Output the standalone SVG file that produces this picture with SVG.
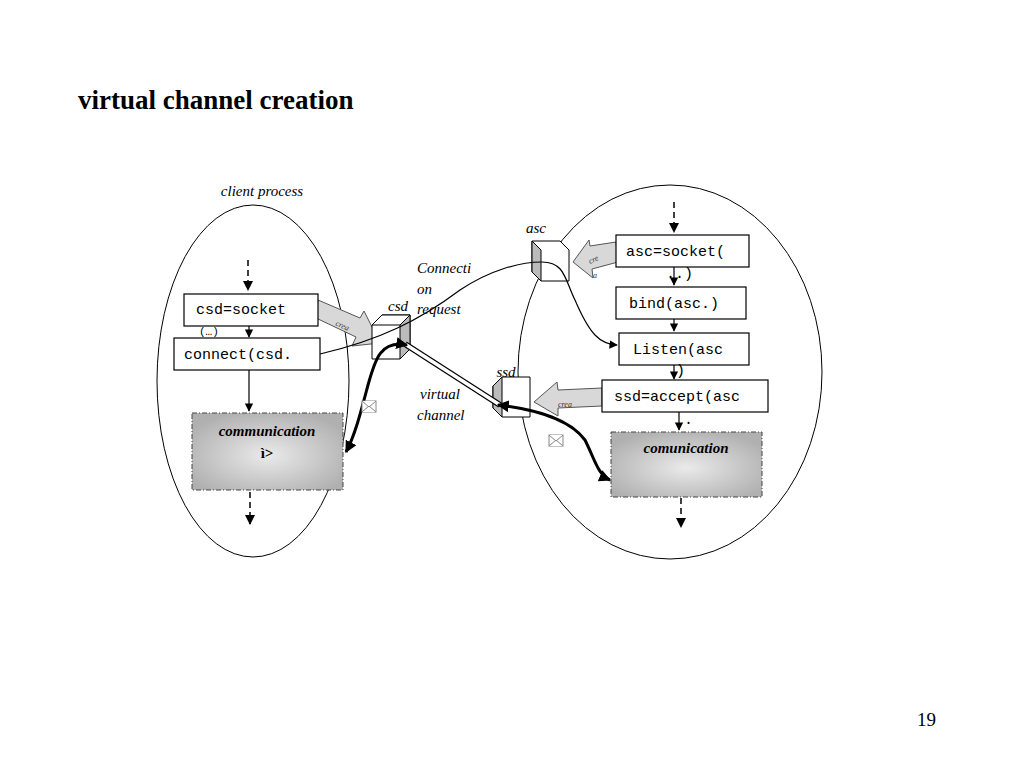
<svg xmlns="http://www.w3.org/2000/svg" width="1024" height="768" viewBox="0 0 1024 768">
<style>
.t{font-family:"Liberation Serif",serif;font-style:italic;font-size:15px}
.m{font-family:"Liberation Mono",monospace;font-size:15px}
.box{fill:#fff;stroke:#000;stroke-width:1.2}
.th{fill:none;stroke:#000;stroke-width:1.2}
.bk{fill:none;stroke:#000;stroke-width:3}
.da{fill:none;stroke:#000;stroke-width:1.5;stroke-dasharray:6,4}
.fat{fill:#d8d8d8;stroke:#555;stroke-width:1}
.ct{font-family:"Liberation Serif",serif;font-style:italic;font-size:8px;fill:#333}
.env{fill:#fff;stroke:#888;stroke-width:1}
</style>
<defs>
<marker id="a" viewBox="0 0 10 10" refX="9" refY="5" markerWidth="7" markerHeight="7" orient="auto-start-reverse"><path d="M0,0L10,5L0,10z"/></marker>
<marker id="b" viewBox="0 0 10 10" refX="9" refY="5" markerWidth="4" markerHeight="4" orient="auto-start-reverse"><path d="M0,0L10,5L0,10z"/></marker>
<radialGradient id="g" cx="0.5" cy="0.55" r="0.6"><stop offset="0" stop-color="#eaeaea"/><stop offset="1" stop-color="#b0b0b0"/></radialGradient>
</defs>
<rect width="1024" height="768" fill="#fff"/>
<text x="78" y="109" font-family="Liberation Serif,serif" font-weight="bold" font-size="27">virtual channel creation</text>
<text x="917" y="726" font-family="Liberation Serif,serif" font-size="19">19</text>
<text x="262" y="196" class="t" text-anchor="middle">client process</text>
<ellipse cx="253" cy="381" rx="96" ry="176" fill="none" stroke="#000"/>
<ellipse cx="670" cy="372" rx="152" ry="187" fill="none" stroke="#000"/>
<g id="crea1"><path class="fat" d="M318,300L360,318L364,311L380,343L352,346L356,337L316,318z"/><text x="335" y="325" class="ct" transform="rotate(25 335 325)">crea</text></g>
<g id="crea2"><path class="fat" d="M616,242L590,246L589,240L573,262L593,278L592,269L618,262z"/><text x="590" y="264" class="ct" transform="rotate(-25 590 264)">cre</text><text x="593" y="278" class="ct">a</text></g>
<g id="crea3"><path class="fat" d="M602,388L558,390L557,382L534,402L558,416L558,408L602,406z"/><text x="558" y="407" class="ct">crea</text></g>
<g id="csdcube"><path d="M372,325L382,315H410V349L400,359H372z" fill="#fff" stroke="#000"/><path d="M400,325L410,315V349L400,359z" fill="#bbb" stroke="#000"/><path d="M372,325L382,315H410L400,325z" fill="#fff" stroke="#000"/><text x="398" y="311" class="t" text-anchor="middle">csd</text></g>
<g id="asccube"><path d="M532,241H560L569,250V281H541L532,272z" fill="#fff" stroke="#000"/><path d="M532,241L541,250V281L532,272z" fill="#bbb" stroke="#000"/><text x="536" y="233" class="t" text-anchor="middle">asc</text></g>
<g id="ssdcube"><path d="M502,377H530V417H502L493,408V386z" fill="#fff" stroke="#000"/><path d="M493,386L502,377V417L493,408z" fill="#bbb" stroke="#000"/><text x="506" y="377" class="t" text-anchor="middle">ssd</text></g>
<g id="connectors">
<path class="da" d="M248,260V290" marker-end="url(#a)"/>
<path class="th" d="M249,326V337" marker-end="url(#a)"/>
<path class="th" d="M249,370V411" marker-end="url(#a)"/>
<path class="da" d="M250,492V524" marker-end="url(#a)"/>
<path class="da" d="M674,202V232" marker-end="url(#a)"/>
<path class="th" d="M674,267V285" marker-end="url(#a)"/>
<path class="th" d="M674,319V331" marker-end="url(#a)"/>
<path class="th" d="M674,365V379" marker-end="url(#a)"/>
<path class="th" d="M679,412V430" marker-end="url(#a)"/>
<path class="da" d="M681,498V527" marker-end="url(#a)"/>
<path class="th" d="M320,354C380,340 420,320 460,290C490,270 520,262 542,262C565,262 565,280 575,300C590,335 600,344 617,345" marker-end="url(#a)"/>
<path d="M405,344L500,405" stroke="#000" stroke-width="6"/>
<path d="M405,344L500,405" stroke="#fff" stroke-width="3.5"/>
<path class="bk" d="M407,345C380,340 375,360 368,385C360,415 355,435 346,452" marker-start="url(#b)" marker-end="url(#b)"/>
<path class="bk" d="M498,405C540,410 570,420 585,440C595,460 598,475 610,480" marker-start="url(#b)" marker-end="url(#b)"/>
</g>
<g id="n1"><rect x="184" y="294" width="134" height="32" class="box"/><text x="196" y="314" class="m">csd=socket</text><text x="199" y="335" font-family="Liberation Mono,monospace" font-size="11">(…)</text></g>
<g id="n2"><rect x="174" y="338" width="146" height="32" class="box"/><text x="184" y="359" class="m">connect(csd.</text></g>
<g id="n3"><rect x="192" y="413" width="151" height="77" fill="url(#g)" stroke="#444" stroke-dasharray="5,2,1,2"/><text x="267" y="436" font-family="Liberation Serif,serif" font-weight="bold" font-style="italic" font-size="15" text-anchor="middle">communication</text><text x="267" y="458" font-family="Liberation Serif,serif" font-weight="bold" font-size="15" text-anchor="middle">ì&gt;</text></g>
<g id="n4"><rect x="616" y="235" width="133" height="32" class="box"/><text x="626" y="256" class="m">asc=socket(</text><text x="666" y="278" class="m">..)</text></g>
<g id="n5"><rect x="616" y="287" width="130" height="32" class="box"/><text x="629" y="308" class="m">bind(asc.)</text></g>
<g id="n6"><rect x="619" y="333" width="130" height="32" class="box"/><text x="633" y="354" class="m">Listen(asc</text><text x="676" y="375" class="m">)</text></g>
<g id="n7"><rect x="602" y="380" width="166" height="32" class="box"/><text x="614" y="401" class="m">ssd=accept(asc</text><text x="684" y="424" class="m">.</text></g>
<g id="n8"><rect x="611" y="432" width="151" height="65" fill="url(#g)" stroke="#444" stroke-dasharray="5,2,1,2"/><text x="686" y="453" font-family="Liberation Serif,serif" font-weight="bold" font-style="italic" font-size="15" text-anchor="middle">comunication</text></g>
<text x="417" y="273" class="t">Connecti</text><text x="417" y="294" class="t">on</text><text x="417" y="314" class="t">request</text>
<text x="420" y="399" class="t">virtual</text><text x="417" y="420" class="t">channel</text>
<g><rect x="362" y="401" width="14" height="11" class="env"/><path d="M362,401L369,407L376,401M362,412L369,406L376,412" class="env" fill="none"/></g>
<g><rect x="549" y="435" width="14" height="11" class="env"/><path d="M549,435L556,441L563,435M549,446L556,440L563,446" class="env" fill="none"/></g>
</svg>
